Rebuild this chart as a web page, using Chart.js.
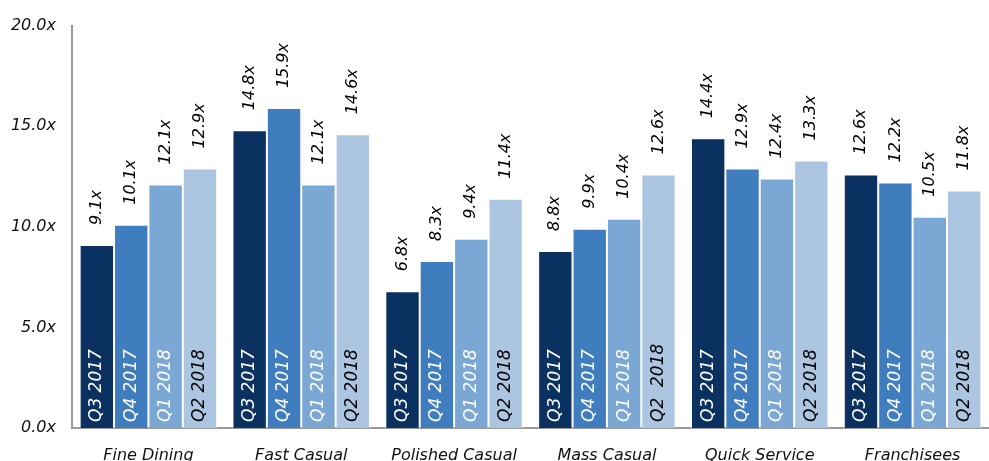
<!DOCTYPE html>
<html>
<head>
<meta charset="utf-8">
<script src="https://cdn.jsdelivr.net/npm/chart.js@4/dist/chart.umd.min.js"></script>
<style>
  html, body { margin: 0; padding: 0; background: #fff; overflow: hidden; }
  #wrap { width: 989px; height: 461px; }
</style>
</head>
<body>
<div id="wrap"><canvas id="myChart" width="989" height="461"></canvas></div>
<script>
var categories = ["Fine Dining", "Fast Casual", "Polished Casual", "Mass Casual", "Quick Service", "Franchisees"];
var quarters = ["Q3 2017", "Q4 2017", "Q1 2018", "Q2 2018"];
var q3_2017 = [9.1, 14.8, 6.8, 8.8, 14.4, 12.6];
var q4_2017 = [10.1, 15.9, 8.3, 9.9, 12.9, 12.2];
var q1_2018 = [12.1, 12.1, 9.4, 10.4, 12.4, 10.5];
var q2_2018 = [12.9, 14.6, 11.4, 12.6, 13.3, 11.8];
var yTicks = [0, 5, 10, 15, 20];

// text written inside the bars (one bar in the source has a double space)
var innerLabels = [
  categories.map(function () { return "Q3 2017"; }),
  categories.map(function () { return "Q4 2017"; }),
  categories.map(function () { return "Q1 2018"; }),
  ["Q2 2018", "Q2 2018", "Q2 2018", "Q2  2018", "Q2 2018", "Q2 2018"]
];

var barColors = ['#0b3160', '#407dbf', '#7ba7d4', '#acc6e2'];
var innerTextColors = ['#ffffff', '#ffffff', '#ffffff', '#000000'];
var FONT = "'DejaVu Sans', Verdana, sans-serif";

function makeDataset(label, values, i) {
  return {
    label: label,
    data: values,
    backgroundColor: barColors[i],
    borderColor: 'rgba(255,255,255,0.5)',
    borderWidth: 1,
    categoryPercentage: 0.9,
    barPercentage: 1.0
  };
}

// draws the rotated value labels above the bars and the quarter labels inside
var barTextPlugin = {
  id: 'barText',
  afterDatasetsDraw: function (chart) {
    var ctx = chart.ctx;
    ctx.save();
    ctx.textBaseline = 'middle';
    ctx.textAlign = 'left';
    chart.data.datasets.forEach(function (ds, di) {
      var meta = chart.getDatasetMeta(di);
      meta.data.forEach(function (bar, idx) {
        // value on top
        ctx.save();
        ctx.font = 'italic 16px ' + FONT;
        ctx.translate(bar.x, bar.y - 20);
        ctx.rotate(-Math.PI / 2);
        ctx.fillStyle = '#000';
        ctx.fillText(ds.data[idx].toFixed(1) + 'x', 0, 0);
        ctx.restore();
        // quarter inside the bar
        ctx.save();
        ctx.font = 'italic 17px ' + FONT;
        ctx.translate(bar.x, bar.base - 6);
        ctx.rotate(-Math.PI / 2);
        ctx.fillStyle = innerTextColors[di];
        ctx.fillText(innerLabels[di][idx], 0, 0);
        ctx.restore();
      });
    });
    ctx.restore();
  }
};

const config = {
  type: 'bar',
  data: {
    labels: categories,
    datasets: [
      makeDataset(quarters[0], q3_2017, 0),
      makeDataset(quarters[1], q4_2017, 1),
      makeDataset(quarters[2], q1_2018, 2),
      makeDataset(quarters[3], q2_2018, 3)
    ]
  },
  options: {
    responsive: false,
    animation: false,
    layout: { padding: { top: 22, right: 0, left: 0, bottom: 0 } },
    plugins: {
      legend: { display: false },
      tooltip: { enabled: false }
    },
    scales: {
      x: {
        grid: { display: false, drawTicks: false },
        border: { display: true, color: '#9a9a9a', width: 2 },
        ticks: {
          color: '#111',
          font: { family: FONT, size: 16, style: 'italic' },
          padding: 18,
          maxRotation: 0,
          autoSkip: false
        },
        afterFit: function (scale) { scale.height = 33; }
      },
      y: {
        min: 0,
        max: 20,
        grid: { display: false, drawTicks: false },
        border: { display: true, color: '#9a9a9a', width: 2 },
        afterBuildTicks: function (scale) {
          scale.ticks = yTicks.map(function (v) { return { value: v }; });
        },
        ticks: {
          color: '#111',
          font: { family: FONT, size: 16, style: 'italic' },
          padding: 16,
          callback: function (v) { return v.toFixed(1) + 'x'; }
        },
        afterFit: function (scale) { scale.width = 72; }
      }
    }
  },
  plugins: [barTextPlugin]
};

var ctx = document.getElementById('myChart').getContext('2d');
var myChart = new Chart(ctx, config);
</script>
</body>
</html>
